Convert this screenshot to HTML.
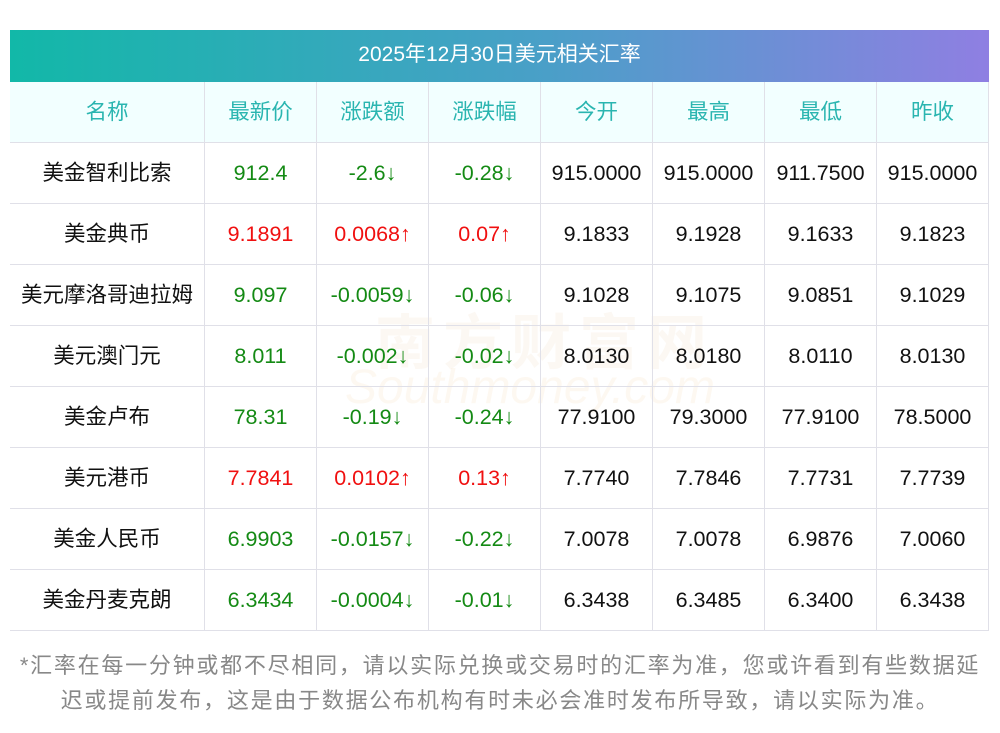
<!DOCTYPE html>
<html><head><meta charset="utf-8"><style>
body{margin:0;width:1000px;height:733px;background:#fff;font-family:"Liberation Sans","Noto Sans CJK SC",sans-serif;position:relative;overflow:hidden}
.title{position:absolute;left:10px;top:30px;width:979px;height:52px;background:linear-gradient(90deg,#12b8a8,#4a9fc8 55%,#8f7fe2);color:#fff;font-size:21px;text-align:center;line-height:50px}
table{position:absolute;left:10px;top:82px;border-collapse:collapse;width:979px}
td{height:60px;border:1px solid #e0e0e8;text-align:center;font-size:21.5px;color:#111;padding:0;line-height:56px}
tr td:first-child{border-left:none}
tr:first-child td{border-top:none}
.h td{background:#f2ffff;color:#2ab5b0;font-size:21.5px}
.g{color:#148a14}.r{color:#f01010}
.note{position:absolute;left:0;top:648px;width:1000px;font-size:22px;color:#888;line-height:35px;text-align:center;white-space:nowrap;letter-spacing:1.75px}
.wm{position:absolute;color:rgba(230,200,160,0.12);font-size:60px;font-weight:bold;left:375px;top:295px;letter-spacing:8px}
.wm2{position:absolute;color:rgba(240,200,140,0.12);font-size:48px;font-style:italic;left:345px;top:360px}
</style></head><body>
<div class="title">2025年12月30日美元相关汇率</div>
<div class="wm">南方财富网</div>
<div class="wm2">Southmoney.com</div>
<table>
<tr class="h"><td style="width:194px">名称</td><td style="width:111px">最新价</td><td style="width:111px">涨跌额</td><td style="width:111px">涨跌幅</td><td style="width:111px">今开</td><td style="width:111px">最高</td><td style="width:111px">最低</td><td>昨收</td></tr>
<tr><td>美金智利比索</td><td class="g">912.4</td><td class="g">-2.6↓</td><td class="g">-0.28↓</td><td>915.0000</td><td>915.0000</td><td>911.7500</td><td>915.0000</td></tr>
<tr><td>美金典币</td><td class="r">9.1891</td><td class="r">0.0068↑</td><td class="r">0.07↑</td><td>9.1833</td><td>9.1928</td><td>9.1633</td><td>9.1823</td></tr>
<tr><td>美元摩洛哥迪拉姆</td><td class="g">9.097</td><td class="g">-0.0059↓</td><td class="g">-0.06↓</td><td>9.1028</td><td>9.1075</td><td>9.0851</td><td>9.1029</td></tr>
<tr><td>美元澳门元</td><td class="g">8.011</td><td class="g">-0.002↓</td><td class="g">-0.02↓</td><td>8.0130</td><td>8.0180</td><td>8.0110</td><td>8.0130</td></tr>
<tr><td>美金卢布</td><td class="g">78.31</td><td class="g">-0.19↓</td><td class="g">-0.24↓</td><td>77.9100</td><td>79.3000</td><td>77.9100</td><td>78.5000</td></tr>
<tr><td>美元港币</td><td class="r">7.7841</td><td class="r">0.0102↑</td><td class="r">0.13↑</td><td>7.7740</td><td>7.7846</td><td>7.7731</td><td>7.7739</td></tr>
<tr><td>美金人民币</td><td class="g">6.9903</td><td class="g">-0.0157↓</td><td class="g">-0.22↓</td><td>7.0078</td><td>7.0078</td><td>6.9876</td><td>7.0060</td></tr>
<tr><td>美金丹麦克朗</td><td class="g">6.3434</td><td class="g">-0.0004↓</td><td class="g">-0.01↓</td><td>6.3438</td><td>6.3485</td><td>6.3400</td><td>6.3438</td></tr>
</table>
<div class="note">*汇率在每一分钟或都不尽相同，请以实际兑换或交易时的汇率为准，您或许看到有些数据延<br>迟或提前发布，这是由于数据公布机构有时未必会准时发布所导致，请以实际为准。</div>
</body></html>
